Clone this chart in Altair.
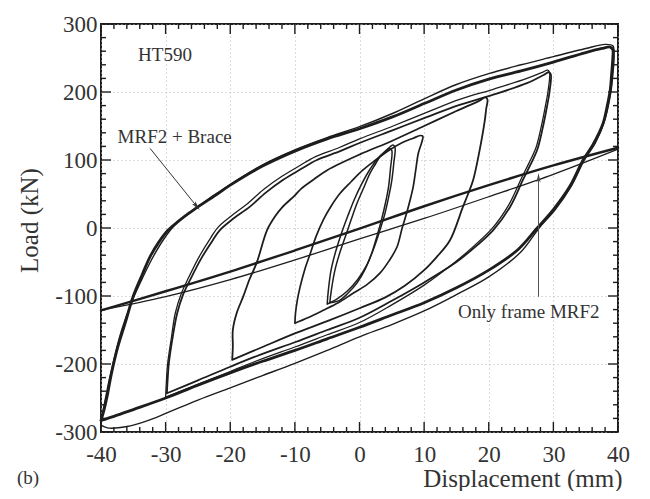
import altair as alt
import pandas as pd

# ---------------- data ----------------
# Only frame MRF2 (two nearly coincident branches)
mrf_up_x = [-40, -30, -20, -10, 0, 10, 20, 30, 40]
mrf_up_y = [-121, -93, -64, -33, -1, 32, 63, 92, 118]
mrf_lo_x = [-40, -30, -20, -10, 0, 10, 20, 30, 40]
mrf_lo_y = [-121, -101, -76, -47, -16, 14, 46, 79, 116]

# MRF2 + Brace, +-40 mm cycle (outer, thin)
c40a_x = [-40, -39.8, -39.3, -38.7, -37.8, -36.8, -35.4, -33.8, -32.2, -30.4, -28.5, -26, -23, -20, -15, -10, -5, 0, 5, 10, 15, 20, 25, 30, 35, 38.0, 39.2,
          39.4, 39.2, 38.9, 38.0, 36.5, 34.8, 32.8, 30.3, 27.8, 25, 20, 15, 10, 5, 0, -5, -10, -15, -20, -25, -29.8, -33, -36, -39, -40]
c40a_y = [-290, -275, -250, -222, -185, -150, -112, -78, -47, -18, 5, 24, 45, 64, 93, 115, 133, 149, 168, 190, 211, 227, 240, 252, 264, 270, 268,
          255, 225, 200, 160, 125, 100, 62, 27, 0, -35, -72, -98, -122, -142, -160, -180, -199, -217, -235, -253, -272, -284, -292, -294, -290]
# +-40 mm cycle (thick)
c40b_x = [-40, -39.6, -39.0, -38.4, -37.4, -36.2, -35, -33.6, -32.4, -31, -29.6, -28, -26.5, -25, -22, -20, -15, -10, -5, 0, 5, 10, 15, 20, 25, 30, 35, 37.5, 38.8,
          39.2, 39.2, 39.0, 38.8, 38.3, 37.7, 36.1, 34.6, 32.6, 30, 27.5, 24.5, 20, 15, 10, 5, 0, -5, -10, -15, -20, -25, -30, -35, -38, -40]
c40b_y = [-283, -270, -245, -215, -175, -138, -100, -68, -42, -20, -3, 10, 21, 31, 50, 63, 91, 113, 131, 146, 163, 183, 203, 219, 231, 244, 258, 264, 266,
          262, 251, 225, 203, 178, 154, 122, 100, 62, 27, 0, -32, -62, -88, -110, -128, -146, -163, -180, -196, -213, -231, -250, -267, -277, -283]
# +-30 mm cycles
c30_x = [-29.8, -29.7, -29.5, -28.9, -28.2, -27.3, -26.2, -24.5, -22.7, -21.6, -19.5, -17, -14.5, -11.8, -9, -6.6, -3, 0, 5.2, 10.4, 15.5, 20.7, 25.9, 28.5, 29.3,
         29.6, 29.4, 29.0, 28.3, 27.5, 26.4, 25.3, 23.3, 20.7, 17, 15, 10, 5, 0, -5, -10, -15, -20, -25, -29.8]
c30_y = [-243, -225, -199, -160, -125, -98, -76, -45, -18, -3, 14, 31, 52, 71, 87, 100, 113, 125, 144, 163, 181, 196, 213, 225, 229,
         226, 200, 178, 145, 115, 92, 71, 31, -3, -35, -50, -80, -107, -132, -150, -168, -185, -204, -224, -243]
c30b_x = [-30.0, -29.9, -29.7, -29.1, -28.5, -27.6, -26.5, -24.8, -23.0, -21.9, -19.8, -17.3, -14.8, -12.0, -9.2, -6.8, -3.2, 0, 5.2, 10.4, 15.5, 20.7, 25.9, 28.3, 29.1,
          29.4, 29.2, 28.8, 28.1, 27.3, 26.2, 25.1, 23.1, 20.5, 16.8, 14.8, 10, 5, 0, -5, -10, -15, -20, -25, -30.0]
c30b_y = [-249, -229, -201, -161, -125, -97, -74, -42, -14, 1, 18, 36, 57, 76, 92, 105, 118, 131, 150, 170, 189, 204, 220, 229, 232,
          229, 203, 181, 148, 118, 95, 74, 34, -1, -34, -50, -84, -113, -139, -157, -175, -192, -211, -230, -249]
# +-20 mm cycle
c20_x = [-19.7, -19.6, -19.6, -19.0, -18, -17, -15.9, -14.3, -13, -12, -10, -9, -7, -5, 0, 5, 10, 15, 18.5, 19.5,
         19.8, 19.6, 19.4, 18.6, 17.6, 16.8, 16, 14, 12, 10, 7, 4, 0, -5, -10, -15, -19.7]
c20_y = [-194, -175, -150, -125, -101, -75, -51, -3, 18, 30, 48, 58, 72, 85, 108, 128, 150, 172, 187, 192,
         189, 175, 159, 115, 71, 50, 31, -18, -42, -62, -85, -102, -118, -137, -155, -175, -194]
# +-10 mm cycle
c10_x = [-10, -9.9, -9.6, -9.2, -8.5, -7.6, -6.7, -5.6, -4.4, -3, -1.3, 0.5, 2.5, 4.7, 6.5, 8.3, 9.4, 9.8,
         9.6, 9.1, 8.7, 8.3, 7.8, 7.3, 6.6, 5.8, 4.6, 3.2, 1.2, -1, -3.3, -5.6, -8, -10]
c10_y = [-140, -125, -105, -87, -62, -37, -12, 12, 32, 51, 68, 85, 100, 115, 125, 132, 136, 135,
         125, 110, 85, 60, 40, 22, 0, -28, -48, -66, -83, -96, -110, -121, -132, -140]
# +-5 mm cycles
c5a_x = [-4.6, -4.3, -3.8, -3.1, -2.2, -1.3, -0.4, 0.6, 1.6, 2.4, 3.2, 4.0, 4.7,
         5.0, 4.8, 4.5, 4.0, 3.4, 2.7, 1.9, 0.9, -0.4, -1.8, -3.0, -4.6]
c5a_y = [-110, -88, -62, -38, -13, 12, 36, 58, 80, 93, 105, 112, 117,
         114, 88, 61, 36, 12, -12, -37, -60, -81, -96, -106, -110]
c5b_x = [-5.0, -4.8, -4.4, -3.7, -2.8, -1.8, -0.8, 0.4, 1.6, 2.8, 4.0, 5.2,
         5.5, 5.3, 5.0, 4.5, 3.9, 3.1, 2.2, 1.1, -0.3, -1.8, -3.4, -5.0]
c5b_y = [-112, -90, -62, -35, -8, 18, 42, 66, 86, 102, 113, 122,
         118, 95, 70, 45, 20, -5, -30, -55, -76, -92, -104, -112]

series = [
    ("mrf_up", mrf_up_x, mrf_up_y, 2.4),
    ("mrf_lo", mrf_lo_x, mrf_lo_y, 1.3),
    ("c40a", c40a_x, c40a_y, 1.4),
    ("c40b", c40b_x, c40b_y, 2.8),
    ("c30", c30_x, c30_y, 1.8),
    ("c30b", c30b_x, c30b_y, 1.3),
    ("c20", c20_x, c20_y, 1.8),
    ("c10", c10_x, c10_y, 1.7),
    ("c5a", c5a_x, c5a_y, 1.5),
    ("c5b", c5b_x, c5b_y, 1.5),
]

x_major = [-40, -30, -20, -10, 0, 10, 20, 30, 40]
x_minor = [v for v in range(-40, 41, 2) if v % 10 != 0]
y_major = [-300, -200, -100, 0, 100, 200, 300]
y_minor = [v for v in range(-300, 301, 20) if v % 100 != 0]

labels_text = ["HT590", "MRF2 + Brace", "Only frame MRF2"]
labels_x = [-30.1, -28.6, 26.2]
labels_y = [254, 134, -123]

arrow1_x = [-32.4, -25.2]
arrow1_y = [117, 32]
arrow2_x = [27.7, 27.7]
arrow2_y = [-101, 74]

# ---------------- build ----------------
W, H = 517, 408
FONT = "Liberation Serif"
INK = "#1d1d1d"

rows = []
for name, xs, ys, w in series:
    for i, (a, b) in enumerate(zip(xs, ys)):
        rows.append({"series": name, "i": i, "d": a, "L": b, "w": w})
df = pd.DataFrame(rows)

xscale = alt.Scale(domain=[-40, 40], nice=False, zero=False)
yscale = alt.Scale(domain=[-300, 300], nice=False, zero=False)

xaxis = alt.Axis(values=x_major, title="Displacement (mm)", ticks=False, domain=False,
                 labelPadding=11, grid=True, gridDash=[1, 3], gridColor="#bdb2c6", gridWidth=1,
                 labelFontSize=23, labelFont=FONT, labelColor="#333", titleFont=FONT,
                 titleFontSize=25, titleFontWeight="normal", titleColor="#333",
                 titleAnchor="end", titleAlign="right", titleBaseline="alphabetic",
                 titleX=521, titleY=54, labelFlush=False, labelExpr="'' + datum.value")
yaxis = alt.Axis(values=y_major, title="Load (kN)", ticks=False, domain=False,
                 labelPadding=4, grid=True, gridDash=[1, 3], gridColor="#bdb2c6", gridWidth=1,
                 labelFontSize=23, labelFont=FONT, labelColor="#333", titleFont=FONT,
                 titleFontSize=25, titleFontWeight="normal", titleColor="#333",
                 titleBaseline="alphabetic", titleAlign="center", titleAngle=270,
                 titleX=-64, titleY=196, labelFlush=False, labelExpr="'' + datum.value")

def X(field):
    return alt.X(field, scale=xscale, axis=xaxis)

def Y(field):
    return alt.Y(field, scale=yscale, axis=yaxis)

curves = alt.Chart(df).mark_line(interpolate="catmull-rom", color=INK, strokeCap="round",
                                 strokeJoin="round").encode(
    x=X("d:Q"),
    y=Y("L:Q"),
    detail="series:N",
    order="i:Q",
    strokeWidth=alt.StrokeWidth("w:Q", scale=None, legend=None),
)

xt_major = pd.DataFrame({"v": x_major})
xt_minor = pd.DataFrame({"v": x_minor})
yt_major = pd.DataFrame({"v": y_major})
yt_minor = pd.DataFrame({"v": y_minor})

def xticks(data, length):
    bottom = alt.Chart(data).mark_rule(color=INK, strokeWidth=1.4).encode(
        x=X("v:Q"), y=alt.value(H), y2=alt.value(H - length))
    top = alt.Chart(data).mark_rule(color=INK, strokeWidth=1.4).encode(
        x=X("v:Q"), y=alt.value(0), y2=alt.value(length))
    return [bottom, top]

def yticks(data, length):
    left = alt.Chart(data).mark_rule(color=INK, strokeWidth=1.4).encode(
        y=Y("v:Q"), x=alt.value(0), x2=alt.value(length))
    right = alt.Chart(data).mark_rule(color=INK, strokeWidth=1.4).encode(
        y=Y("v:Q"), x=alt.value(W), x2=alt.value(W - length))
    return [left, right]

ldf = pd.DataFrame({"t": labels_text, "d": labels_x, "L": labels_y})
texts = alt.Chart(ldf).mark_text(font=FONT, fontSize=19, color="#333", align="center",
                                 baseline="middle").encode(
    x=X("d:Q"), y=Y("L:Q"), text="t:N")

bdf = pd.DataFrame({"t": ["(b)"], "d": [-51.3], "L": [-368]})
btext = alt.Chart(bdf).mark_text(font=FONT, fontSize=19, color="#333", align="center",
                                 baseline="middle").encode(
    x=X("d:Q"), y=Y("L:Q"), text="t:N")

a1 = pd.DataFrame({"d": [arrow1_x[0]], "L": [arrow1_y[0]], "d2": [arrow1_x[1]], "L2": [arrow1_y[1]]})
a2 = pd.DataFrame({"d": [arrow2_x[0]], "L": [arrow2_y[0]], "d2": [arrow2_x[1]], "L2": [arrow2_y[1]]})
arrow_l1 = alt.Chart(a1).mark_rule(color="#333", strokeWidth=1).encode(
    x=X("d:Q"), y=Y("L:Q"), x2="d2:Q", y2="L2:Q")
arrow_l2 = alt.Chart(a2).mark_rule(color="#555", strokeWidth=1).encode(
    x=X("d:Q"), y=Y("L:Q"), x2="d2:Q", y2="L2:Q")

head_shape = "M0,-1 L0.45,1 L0,0.55 L-0.45,1 Z"
head1 = alt.Chart(a1).mark_point(shape=head_shape, filled=True, color="#333", size=90,
                                 angle=141, opacity=1).encode(x=X("d2:Q"), y=Y("L2:Q"))
head2 = alt.Chart(a2).mark_point(shape=head_shape, filled=True, color="#444", size=90,
                                 angle=0, opacity=1).encode(x=X("d2:Q"), y=Y("L2:Q"))

layers = [curves] + xticks(xt_major, 10) + xticks(xt_minor, 5) + yticks(yt_major, 10) \
    + yticks(yt_minor, 5) + [arrow_l1, arrow_l2, head1, head2, texts, btext]

chart = alt.layer(*layers).properties(
    width=W, height=H,
    padding={"left": 93, "top": 16, "right": 24, "bottom": 59},
    autosize=alt.AutoSizeParams(type="none"),
    background="white",
).configure_view(stroke="#1d1d1d", strokeWidth=2)

chart.save("out.html", embed_options={"renderer": "svg", "actions": False})
